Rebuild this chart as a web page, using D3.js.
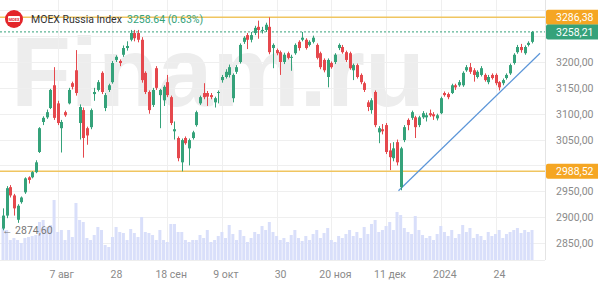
<!DOCTYPE html>
<html lang="ru">
    <head>
        <meta charset="utf-8">
        <title>MOEX Russia Index</title>
        <script src="https://d3js.org/d3.v7.min.js"></script>
        <style>
            body { margin: 0; background: #fff; }
            text { font-family: Roboto, "Noto Sans", sans-serif; }
        </style>
    </head>

    <body>
        <div id="chart"></div>

        <script>

            // daily candles, 17 Jul 2023 .. 7 Feb 2024
            var open = [
                2878,2903,2958,2942,2895,2929,2948,2977,2977,2987,
                3026,3084,3093,3111,3155,3120,3072,3103,3120,3159,
                3184,3082,3107,3072,3074,3138,3146,3179,3111,3146,
                3161,3204,3202,3214,3227,3243,3256,3256,3243,3179,
                3142,3117,3188,3136,3126,3161,3132,3066,3053,3006,
                3053,3033,3053,3078,3120,3140,3140,3136,3122,3140,
                3165,3171,3175,3130,3181,3200,3239,3252,3243,3256,
                3268,3260,3262,3268,3227,3223,3219,3200,3217,3208,
                3217,3239,3243,3243,3233,3239,3233,3217,3204,3171,
                3198,3200,3227,3229,3219,3217,3184,3194,3175,3159,
                3122,3107,3142,3064,3070,3078,3029,3014,3045,2958,
                3049,3088,3092,3093,3078,3093,3093,3101,3099,3091,
                3101,3140,3138,3140,3155,3155,3155,3184,3190,3184,
                3171,3175,3175,3161,3175,3175,3161,3159,3169,3178,
                3198,3219,3229,3217,3233,3239
            ];
            var high = [
                2917,2960,2962,2945,2925,2940,2977,2979,2989,3010,
                3074,3095,3108,3148,3190,3125,3088,3106,3150,3162,
                3223,3118,3112,3075,3110,3150,3165,3182,3140,3158,
                3202,3213,3205,3232,3240,3262,3262,3262,3248,3182,
                3145,3150,3192,3148,3155,3175,3135,3085,3056,3052,
                3056,3052,3067,3106,3135,3159,3144,3140,3133,3145,
                3175,3186,3195,3178,3194,3236,3250,3256,3258,3270,
                3280,3268,3276,3286.38,3236,3226,3222,3218,3220,3214,
                3236,3242,3258,3246,3242,3251,3236,3220,3207,3207,
                3201,3217,3236,3233,3222,3220,3197,3197,3178,3162,
                3126,3130,3145,3076,3080,3082,3043,3045,3050,3036,
                3078,3091,3106,3096,3096,3105,3102,3108,3103,3100,
                3133,3143,3141,3158,3158,3165,3182,3194,3198,3188,
                3184,3192,3178,3175,3178,3178,3163,3168,3178,3197,
                3217,3233,3235,3232,3240,3260
            ];
            var low = [
                2874.6,2898,2938,2903,2889,2926,2945,2965,2975,2985,
                3024,3078,3090,3109,3088,3078,3025,3094,3118,3147,
                3135,3050,3015,3040,3070,3125,3143,3138,3105,3142,
                3158,3200,3192,3210,3222,3240,3240,3238,3160,3138,
                3100,3113,3146,3072,3115,3132,3078,3050,3008,2988.52,
                3040,3000,3050,3075,3117,3128,3115,3128,3112,3120,
                3160,3168,3170,3122,3177,3197,3235,3225,3238,3252,
                3245,3255,3258,3215,3188,3213,3175,3196,3205,3183,
                3214,3222,3240,3224,3230,3236,3205,3186,3180,3151,
                3187,3196,3223,3216,3200,3185,3165,3168,3157,3142,
                3105,3100,3074,3043,3060,3022,2991,3008,3000,2952,
                3045,3068,3088,3053,3074,3090,3085,3094,3088,3087,
                3099,3133,3128,3138,3146,3152,3152,3181,3177,3162,
                3168,3172,3162,3157,3166,3155,3145,3155,3166,3175,
                3195,3216,3218,3214,3230,3236
            ];
            var close = [
                2903,2956,2942,2917,2922,2938,2975,2972,2987,3006,
                3072,3092,3103,3146,3092,3082,3084,3097,3146,3152,
                3140,3113,3053,3058,3107,3142,3161,3142,3136,3155,
                3198,3210,3198,3227,3231,3256,3246,3243,3165,3142,
                3107,3146,3150,3146,3152,3136,3082,3070,3014,3049,
                3043,3049,3064,3103,3132,3132,3133,3132,3130,3142,
                3171,3181,3190,3175,3190,3233,3247,3243,3252,3266,
                3262,3262,3272,3219,3233,3217,3200,3214,3208,3210,
                3233,3227,3247,3227,3239,3247,3208,3190,3184,3204,
                3190,3214,3233,3219,3204,3188,3194,3171,3161,3146,
                3113,3126,3078,3072,3066,3026,3016,3033,3006,3033,
                3074,3078,3103,3074,3093,3101,3097,3097,3095,3097,
                3130,3136,3132,3155,3151,3161,3179,3190,3181,3175,
                3181,3188,3165,3171,3169,3159,3151,3165,3175,3194,
                3214,3229,3223,3229,3237,3258.21
            ];
            // volume, bln RUB (estimated)
            var volume = [
                32,30,20,22,20,17,22,23,24,25,
                38,40,33,35,60,28,30,20,30,23,
                57,40,38,22,20,25,33,30,15,13,
                23,33,28,27,20,31,27,23,43,28,
                27,25,20,30,20,18,36,36,28,28,
                20,18,20,20,25,22,30,18,20,24,
                28,22,35,26,20,30,24,18,22,28,
                26,34,30,38,28,24,20,22,18,25,
                30,22,19,24,20,26,30,22,27,32,
                20,18,24,22,26,30,24,28,22,33,
                26,36,40,28,30,34,38,30,48,45,
                32,28,26,44,30,25,22,24,20,26,
                34,28,24,30,22,26,35,28,32,22,
                26,24,20,28,24,26,30,22,26,28,
                30,32,27,30,28,30
            ];

            var tickIdx = [15, 30, 45, 60, 75, 90, 105, 120, 135];
            var tickLabels = ["7 авг", "28", "18 сен", "9 окт", "30", "20 ноя", "11 дек", "2024", "24"];
            var priceTicks = [2850, 2900, 2950, 3000, 3050, 3100, 3150, 3200, 3250, 3300];

            var levelHigh = 3286.38;
            var levelLow = 2988.52;
            var lastPrice = 3258.21;
            var lowMark = 2874.60;
            // trend line points: [candle index, price]
            var trend = [[108.4, 2951], [147.2, 3217]];

            var width = 600, height = 287;
            var plotRight = 545, plotBottom = 260;
            var green = "#35a27a", red = "#e5484d", gold = "#f0c560", orange = "#f5a623";

            var svg = d3.select("#chart")
                        .append("svg")
                        .attr("width", width)
                        .attr("height", height);

            var x = d3.scaleLinear().domain([0, close.length - 1]).range([3, 532]);
            var y = d3.scaleLinear().domain([2850, 3200]).range([243, 62]);
            var yv = d3.scaleLinear().domain([0, 80]).range([plotBottom, plotBottom - 80]);
            var fmt = function(v){ return d3.format(".2f")(v).replace(".", ","); };

            //watermark
            svg.append("text")
                .attr("x", 11)
                .attr("y", 106)
                .style("font-family", "'Liberation Sans', Arial, sans-serif")
                .style("font-weight", "bold")
                .style("font-size", "98px")
                .attr("fill", "#ededed")
                .text("Finam.ru");

            //grid
            svg.selectAll(".hgrid")
                .data(priceTicks)
                .enter()
                .append("line")
                .attr("x1", 0).attr("x2", plotRight)
                .attr("y1", function(d){ return Math.round(y(d)) + 0.5; })
                .attr("y2", function(d){ return Math.round(y(d)) + 0.5; })
                .attr("stroke", "#efefef");

            svg.selectAll(".vgrid")
                .data(tickIdx)
                .enter()
                .append("line")
                .attr("x1", function(d){ return Math.round(x(d)) + 0.5; })
                .attr("x2", function(d){ return Math.round(x(d)) + 0.5; })
                .attr("y1", 0).attr("y2", plotBottom)
                .attr("stroke", "#efefef");

            //volume
            svg.selectAll(".vol")
                .data(volume)
                .enter()
                .append("rect")
                .attr("x", function(d, i){ return x(i) - 1.5; })
                .attr("width", 3)
                .attr("y", function(d){ return yv(d); })
                .attr("height", function(d){ return plotBottom - yv(d); })
                .attr("fill", "#d9dffa");

            //frame
            svg.append("line")
                .attr("x1", plotRight + 0.5).attr("x2", plotRight + 0.5)
                .attr("y1", 0).attr("y2", plotBottom)
                .attr("stroke", "#e4e4e4");
            svg.append("line")
                .attr("x1", 0).attr("x2", plotRight)
                .attr("y1", plotBottom + 0.5).attr("y2", plotBottom + 0.5)
                .attr("stroke", "#eeeeee");

            //levels
            [levelHigh, levelLow].forEach(function(v){
                svg.append("line")
                    .attr("x1", 0).attr("x2", plotRight)
                    .attr("y1", y(v)).attr("y2", y(v))
                    .attr("stroke", gold)
                    .attr("stroke-width", 1.5);
            });
            svg.append("line")
                .attr("x1", 0).attr("x2", plotRight)
                .attr("y1", y(lastPrice)).attr("y2", y(lastPrice))
                .attr("stroke", green)
                .attr("stroke-dasharray", "2,2");

            //trend line
            svg.append("line")
                .attr("x1", x(trend[0][0])).attr("y1", y(trend[0][1]))
                .attr("x2", x(trend[1][0])).attr("y2", y(trend[1][1]))
                .attr("stroke", "#5b95d8")
                .attr("stroke-width", 1.2);

            //candles
            var candles = svg.selectAll(".candle")
                .data(close)
                .enter()
                .append("g")
                .attr("class", "candle");

            candles.append("line")
                .attr("x1", function(d, i){ return Math.round(x(i)) + 0.5; })
                .attr("x2", function(d, i){ return Math.round(x(i)) + 0.5; })
                .attr("y1", function(d, i){ return y(high[i]); })
                .attr("y2", function(d, i){ return y(low[i]); })
                .attr("stroke", function(d, i){ return d >= open[i] ? green : red; });

            candles.append("rect")
                .attr("x", function(d, i){ return Math.round(x(i)) - 1; })
                .attr("width", 3)
                .attr("y", function(d, i){ return y(Math.max(d, open[i])); })
                .attr("height", function(d, i){ return Math.max(1, Math.abs(y(d) - y(open[i]))); })
                .attr("fill", function(d, i){ return d >= open[i] ? green : red; });

            //price axis, labels hidden where a price tag covers them
            var tagged = [levelHigh, lastPrice, levelLow];
            svg.selectAll(".ylab")
                .data(priceTicks.filter(function(t){
                    return tagged.every(function(v){ return Math.abs(y(t) - y(v)) > 11; });
                }))
                .enter()
                .append("text")
                .attr("x", 556)
                .attr("y", function(d){ return y(d) + 4; })
                .style("font-size", "10.5px")
                .attr("fill", "#8a8a8a")
                .text(fmt);

            function tag(v, color){
                svg.append("path")
                    .attr("d", "M548," + (y(v) - 7.5) + "h50v15h-50q-2,0 -2,-2v-11q0,-2 2,-2z")
                    .attr("fill", color);
                svg.append("text")
                    .attr("x", 556)
                    .attr("y", y(v) + 4)
                    .style("font-size", "10.5px")
                    .attr("fill", "#fff")
                    .text(fmt(v));
            }
            tag(levelHigh, orange);
            tag(lastPrice, green);
            tag(levelLow, orange);

            //date axis
            svg.selectAll(".xlab")
                .data(tickIdx)
                .enter()
                .append("text")
                .attr("x", function(d){ return x(d) + 4; })
                .attr("y", 278)
                .attr("text-anchor", "middle")
                .style("font-size", "10.5px")
                .attr("fill", "#8a8a8a")
                .text(function(d, i){ return tickLabels[i]; });

            //min marker
            svg.append("text")
                .attr("x", 2)
                .attr("y", y(lowMark) + 4)
                .style("font-size", "10.5px")
                .attr("fill", "#777")
                .text("\u2190 " + fmt(lowMark));

            //title
            svg.append("circle")
                .attr("cx", 14).attr("cy", 19).attr("r", 9)
                .attr("fill", "#e3262b");
            svg.append("rect")
                .attr("x", 8).attr("y", 16).attr("width", 12).attr("height", 6).attr("rx", 1)
                .attr("fill", "#fff");
            svg.append("text")
                .attr("x", 14).attr("y", 21)
                .attr("text-anchor", "middle")
                .style("font-size", "4px")
                .style("font-weight", "bold")
                .attr("fill", "#e3262b")
                .text("MOEX");
            svg.append("text")
                .attr("x", 31).attr("y", 23)
                .style("font-size", "10.5px")
                .attr("fill", "#333")
                .text("MOEX Russia Index");
            svg.append("text")
                .attr("x", 127).attr("y", 23)
                .style("font-size", "10.5px")
                .attr("fill", green)
                .text("3258.64 (0.63%)");

        </script>
    </body>
</html>
